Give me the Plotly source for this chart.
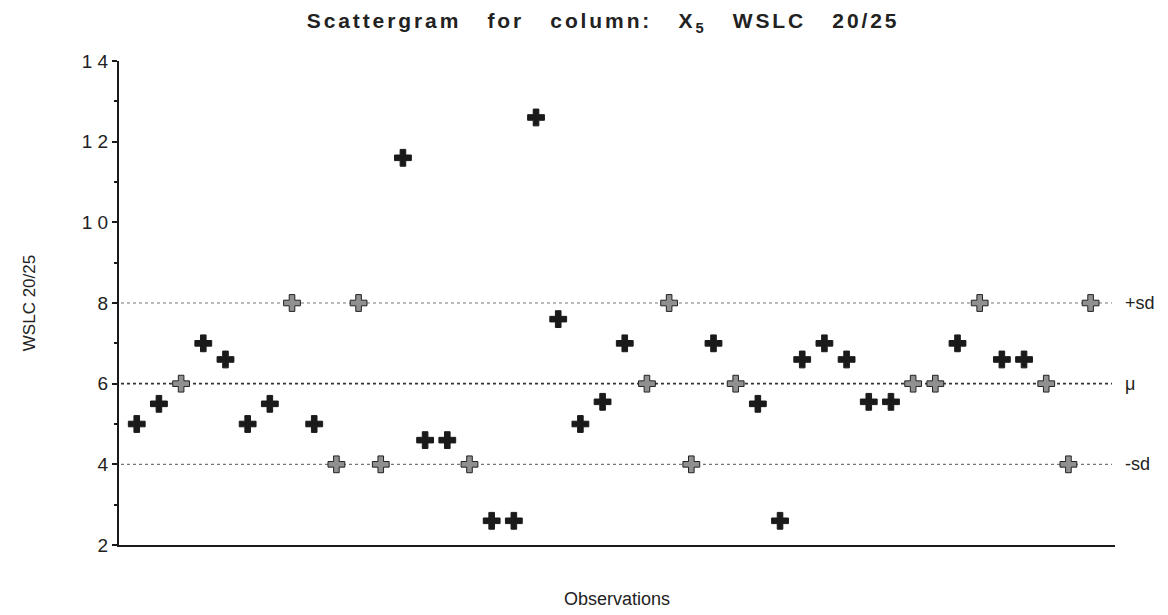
import plotly.graph_objects as go

# ---- data ----
observations = list(range(1, 45))
wslc_values = [5.0, 5.5, 6.0, 7.0, 6.6, 5.0, 5.5, 8.0, 5.0, 4.0,
               8.0, 4.0, 11.6, 4.6, 4.6, 4.0, 2.6, 2.6, 12.6, 7.6,
               5.0, 5.55, 7.0, 6.0, 8.0, 4.0, 7.0, 6.0, 5.5, 2.6,
               6.6, 7.0, 6.6, 5.55, 5.55, 6.0, 6.0, 7.0, 8.0, 6.6,
               6.6, 6.0, 4.0, 8.0]
mean_value = 6.0
sd_value = 2.0
y_tick_vals = [2, 4, 6, 8, 10, 12, 14]
y_tick_text = ["2", "4", "6", "8", "1 0", "1 2", "1 4"]
ref_labels = ["+sd", "\u03bc", "-sd"]

FONT = "Liberation Sans, Arial, sans-serif"

ref_levels = [mean_value + sd_value, mean_value, mean_value - sd_value]
on_line = [any(abs(v - r) < 1e-9 for r in ref_levels) for v in wslc_values]

fill_colors = ["#909090" if f else "#1a1a1a" for f in on_line]
line_colors = ["#222222" if f else "#1a1a1a" for f in on_line]

fig = go.Figure()

# reference lines
for lvl, lab in zip(ref_levels, ref_labels):
    is_mean = lab == "\u03bc"
    fig.add_shape(type="line", xref="paper", yref="y", x0=0.002, x1=0.997,
                  y0=lvl, y1=lvl,
                  line=dict(color="#333333" if is_mean else "#777777",
                            width=1.6 if is_mean else 1.2, dash="dot"),
                  layer="below")
    fig.add_annotation(xref="paper", yref="y", x=1.0, y=lvl, text=lab,
                       showarrow=False, xanchor="left", xshift=8,
                       font=dict(family=FONT, size=18, color="#222222"))

fig.add_trace(go.Scatter(
    x=observations, y=wslc_values, mode="markers",
    marker=dict(symbol="cross", size=14, color=fill_colors,
                line=dict(color=line_colors, width=1)),
    showlegend=False, hoverinfo="x+y"))

title_text = ('<span style="letter-spacing:2.9px">'
              'Scattergram\u00a0\u00a0\u00a0for\u00a0\u00a0\u00a0column:\u00a0\u00a0\u00a0'
              'X<sub>5</sub>\u00a0\u00a0\u00a0WSLC\u00a0\u00a0\u00a020/25</span>')

fig.update_layout(
    width=1168, height=615,
    margin=dict(l=119, r=53, t=61, b=70),
    paper_bgcolor="white", plot_bgcolor="white",
    font=dict(family=FONT, size=18, color="#222222"),
    title=dict(text=title_text,
               x=0.486, xref="paper", xanchor="center", y=0.966, yanchor="middle",
               font=dict(family=FONT, size=21, color="#222222", weight="bold")),
    xaxis=dict(range=[0.2, 45.1], showgrid=False, zeroline=False,
               showticklabels=False, ticks="", showline=True,
               linecolor="#1a1a1a", linewidth=2,
               title=dict(text="Observations", standoff=46,
                          font=dict(family=FONT, size=18))),
    yaxis=dict(range=[2, 14], showgrid=False, zeroline=False,
               tickmode="array", tickvals=y_tick_vals, ticktext=y_tick_text,
               ticks="outside", ticklen=5, tickwidth=2, tickcolor="#1a1a1a",
               showline=True, linecolor="#1a1a1a", linewidth=2,
               tickfont=dict(family=FONT, size=19, color="#222222"),
               minor=dict(tickvals=[3, 5, 7, 9, 11, 13], ticks="outside",
                          ticklen=3, tickwidth=2, tickcolor="#1a1a1a"),
               title=dict(text="WSLC 20/25", standoff=42,
                          font=dict(family=FONT, size=17))),
)

fig.write_html("out.html")
